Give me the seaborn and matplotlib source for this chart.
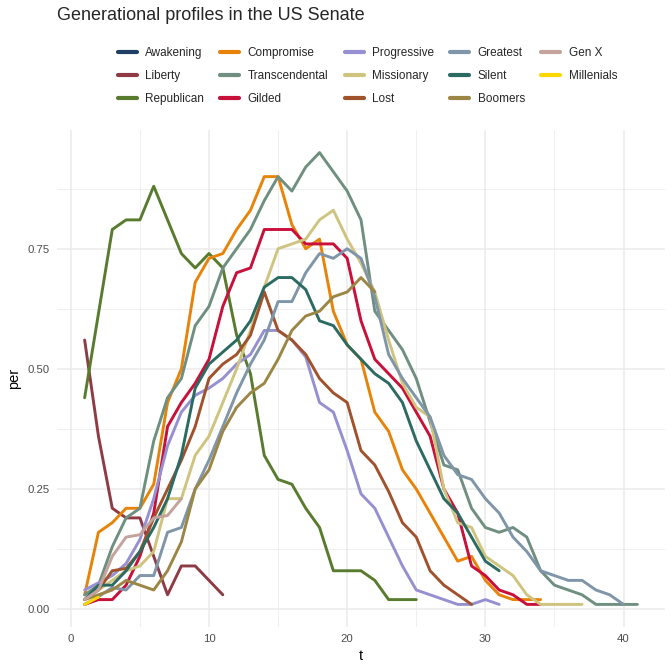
import numpy as np
import pandas as pd
import seaborn as sns
import matplotlib.pyplot as plt
from matplotlib.lines import Line2D

# Share of senators per generation, indexed by t = 1, 2, ...
generations = ['Awakening', 'Liberty', 'Republican', 'Compromise', 'Transcendental',
               'Gilded', 'Progressive', 'Missionary', 'Lost', 'Greatest', 'Silent',
               'Boomers', 'Gen X', 'Millenials']

awakening = [0.01]
liberty = [0.56, 0.36, 0.21, 0.19, 0.19, 0.11, 0.03, 0.09, 0.09, 0.06, 0.03]
republican = [0.44, 0.615, 0.79, 0.81, 0.81, 0.88, 0.81, 0.74, 0.71, 0.74, 0.71, 0.57, 0.49,
              0.32, 0.27, 0.26, 0.21, 0.17, 0.08, 0.08, 0.08, 0.06, 0.02, 0.02, 0.02]
compromise = [0.03, 0.16, 0.18, 0.21, 0.21, 0.26, 0.43, 0.50, 0.68, 0.73, 0.74, 0.79, 0.83,
              0.90, 0.90, 0.80, 0.75, 0.77, 0.62, 0.55, 0.52, 0.41, 0.37, 0.29, 0.25, 0.20,
              0.15, 0.10, 0.11, 0.06, 0.03, 0.02, 0.02, 0.02]
transcendental = [0.03, 0.05, 0.13, 0.19, 0.21, 0.35, 0.44, 0.48, 0.59, 0.63, 0.71, 0.75,
                  0.79, 0.85, 0.90, 0.87, 0.92, 0.95, 0.91, 0.87, 0.81, 0.62, 0.58, 0.54,
                  0.48, 0.39, 0.30, 0.29, 0.21, 0.17, 0.16, 0.17, 0.15, 0.08, 0.05, 0.04,
                  0.03, 0.01, 0.01, 0.01, 0.01]
gilded = [0.01, 0.02, 0.02, 0.05, 0.11, 0.20, 0.38, 0.43, 0.47, 0.52, 0.63, 0.70, 0.71,
          0.79, 0.79, 0.79, 0.76, 0.76, 0.76, 0.73, 0.60, 0.52, 0.49, 0.46, 0.41, 0.36,
          0.25, 0.20, 0.09, 0.07, 0.04, 0.03, 0.01, 0.01]
progressive = [0.04, 0.055, 0.07, 0.095, 0.145, 0.23, 0.34, 0.41, 0.445, 0.46, 0.48, 0.51,
               0.53, 0.58, 0.58, 0.56, 0.525, 0.43, 0.41, 0.33, 0.24, 0.21, 0.15, 0.09,
               0.04, 0.03, 0.02, 0.01, 0.01, 0.02, 0.01]
missionary = [0.02, 0.04, 0.06, 0.08, 0.09, 0.12, 0.23, 0.23, 0.32, 0.36, 0.43, 0.50, 0.58,
              0.67, 0.75, 0.76, 0.77, 0.81, 0.83, 0.77, 0.72, 0.66, 0.56, 0.47, 0.42, 0.40,
              0.25, 0.18, 0.17, 0.11, 0.09, 0.07, 0.03, 0.01, 0.01, 0.01, 0.01]
lost = [0.02, 0.04, 0.08, 0.085, 0.12, 0.19, 0.25, 0.31, 0.38, 0.48, 0.51, 0.53, 0.57,
        0.66, 0.58, 0.56, 0.53, 0.48, 0.45, 0.43, 0.33, 0.30, 0.245, 0.18, 0.15, 0.08,
        0.05, 0.03, 0.01]
greatest = [0.01, 0.026, 0.045, 0.04, 0.07, 0.07, 0.16, 0.17, 0.25, 0.31, 0.38, 0.45, 0.51,
            0.56, 0.64, 0.64, 0.70, 0.74, 0.73, 0.75, 0.73, 0.65, 0.53, 0.48, 0.44, 0.40,
            0.32, 0.28, 0.27, 0.23, 0.20, 0.15, 0.12, 0.08, 0.07, 0.06, 0.06, 0.04, 0.03,
            0.01]
silent = [0.02, 0.05, 0.05, 0.08, 0.12, 0.17, 0.23, 0.32, 0.46, 0.51, 0.535, 0.56, 0.60,
          0.67, 0.69, 0.69, 0.665, 0.60, 0.59, 0.55, 0.52, 0.49, 0.47, 0.43, 0.35, 0.29,
          0.23, 0.20, 0.15, 0.10, 0.08]
boomers = [0.02, 0.03, 0.04, 0.06, 0.05, 0.04, 0.08, 0.14, 0.25, 0.29, 0.37, 0.42, 0.45,
           0.47, 0.52, 0.58, 0.61, 0.62, 0.65, 0.66, 0.69, 0.66]
gen_x = [0.02, 0.04, 0.11, 0.15, 0.155, 0.19, 0.195, 0.23]
millenials = [0.01, 0.025]

series = [awakening, liberty, republican, compromise, transcendental, gilded, progressive,
          missionary, lost, greatest, silent, boomers, gen_x, millenials]

colors = ['#1F3F66', '#8E3B46', '#587B2E', '#E8830A', '#6F8F80', '#C8103A', '#9690D0',
          '#CFC47F', '#A0522D', '#7F95A8', '#2B6B62', '#9C8645', '#C4A39C', '#FFD700']
palette = dict(zip(generations, colors))

# long format table
rows = []
for gen, vals in zip(generations, series):
    for i, v in enumerate(vals):
        rows.append((gen, i + 1, v))
df = pd.DataFrame(rows, columns=['gen', 't', 'per'])

sns.set_style('white')
plt.rcParams['font.family'] = ['Liberation Sans', 'DejaVu Sans']

fig = plt.figure(figsize=(6.72, 6.72), dpi=100)
ax = fig.add_axes([57 / 672, 1 - 627 / 672, 608 / 672, 497 / 672])

sns.lineplot(data=df, x='t', y='per', hue='gen', hue_order=generations,
             palette=palette, errorbar=None, linewidth=2.1, legend=False, ax=ax)

ax.set_xlim(-1, 43)
ax.set_ylim(-0.037, 0.997)
ax.set_xticks([0, 10, 20, 30, 40])
ax.set_xticks([5, 15, 25, 35], minor=True)
ax.set_yticks([0, 0.25, 0.5, 0.75])
ax.set_yticklabels(['0.00', '0.25', '0.50', '0.75'])
ax.set_yticks([0.125, 0.375, 0.625, 0.875], minor=True)
ax.grid(True, which='major', color='#EBEBEB', linewidth=1.1)
ax.grid(True, which='minor', color='#EBEBEB', linewidth=0.55)
ax.set_axisbelow(True)
for s in ax.spines.values():
    s.set_visible(False)
ax.tick_params(which='both', length=0, labelsize=8.2, labelcolor='#4D4D4D', pad=5)
ax.set_xlabel('t', fontsize=10.5, color='black', labelpad=4)
ax.set_ylabel('per', fontsize=10.5, color='black', labelpad=5)

fig.text(57 / 672, 1 - 15 / 672, 'Generational profiles in the US Senate',
         fontsize=13, ha='left', va='center')

handles = [Line2D([], [], color=palette[g], linewidth=3.0) for g in generations]
fig.legend(handles, generations, ncol=5, loc='upper left',
           bbox_to_anchor=(112 / 672, 1 - 41 / 672), frameon=False, fontsize=8.5,
           borderpad=0, handlelength=1.6, handletextpad=0.7, columnspacing=1.4,
           labelspacing=0.95)

fig.savefig('out.png', dpi=100)
